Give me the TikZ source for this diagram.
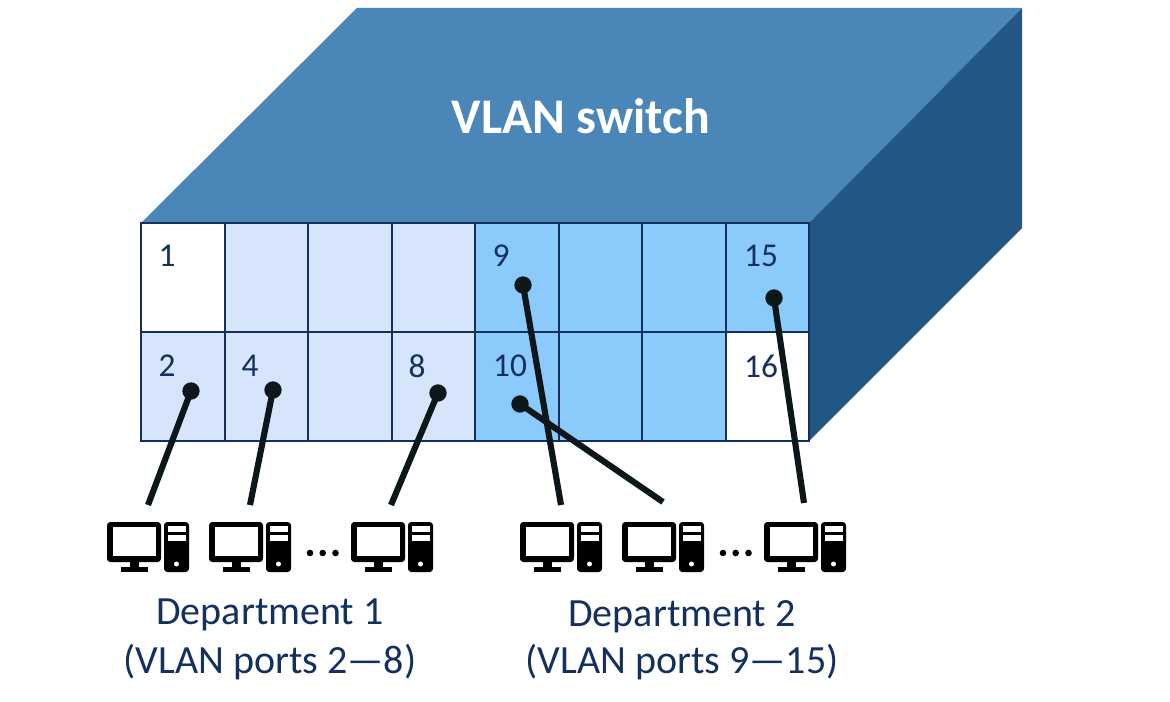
\documentclass[tikz,border=0pt]{standalone}
\usepackage{fontspec}
\setmainfont{Carlito}
\definecolor{navy}{HTML}{14305F}
\definecolor{lightport}{HTML}{D6E5FC}
\definecolor{midport}{HTML}{8BCBFB}
\definecolor{topface}{HTML}{4A86B8}
\definecolor{sideface}{HTML}{245785}
\definecolor{cablecol}{HTML}{0B1719}
\tikzset{
  x=0.75pt,y=-0.75pt,
  portcell/.style={draw=navy,line width=2.1pt},
  portnum/.style={text=navy,font=\fontsize{25}{29}\selectfont,inner sep=0pt,anchor=center},
  plug/.style={circle,fill=cablecol,draw=none,minimum size=13pt,inner sep=0pt},
  cable/.style={draw=cablecol,line width=4.6pt},
  deptlabel/.style={text=navy,font=\fontsize{30}{36}\selectfont,inner sep=0pt,anchor=center},
  pics/computer/.style={code={
    \fill[black,rounded corners=2.5pt] (0,0) rectangle (54,40);
    \fill[white] (5.5,5) rectangle (48.5,34);
    \fill[black] (23,40) rectangle (32,48);
    \fill[black] (14,45) rectangle (41,50);
    \fill[black,rounded corners=2.5pt] (57,0) rectangle (82,50);
    \fill[white] (61,4) rectangle (79,10);
    \fill[white] (61,13) rectangle (79,19);
    \fill[white] (69.5,42) circle[radius=2.5];
  }}
}
\begin{document}
\begin{tikzpicture}
\useasboundingbox (0,0) rectangle (1170,702);
% box faces
\fill[topface] (141,223) -- (357,8) -- (1022,8) -- (809,223) -- cycle;
\fill[sideface] (809,223) -- (1022,8) -- (1022,228) -- (809,441) -- cycle;
\node[text=white,font=\bfseries\fontsize{37.4}{44}\selectfont,inner sep=0pt] (title) at (581,116) {VLAN switch};
% ports
\foreach \xa/\xb/\col in {141/225/white,225/308/lightport,308/392/lightport,392/475/lightport,475/559/midport,559/642/midport,642/726/midport,726/809/midport}
  \filldraw[portcell,fill=\col] (\xa,223) rectangle (\xb,332);
\foreach \xa/\xb/\col in {141/225/lightport,225/308/lightport,308/392/lightport,392/475/lightport,475/559/midport,559/642/midport,642/726/midport,726/809/white}
  \filldraw[portcell,fill=\col] (\xa,332) rectangle (\xb,441);
\node[portnum] (n1) at (167,256) {1};
\node[portnum] (n2) at (167,366) {2};
\node[portnum] (n4) at (250,366) {4};
\node[portnum] (n8) at (417,366) {8};
\node[portnum] (n9) at (501,256) {9};
\node[portnum] (n10) at (510,366) {10};
\node[portnum] (n15) at (761,256) {15};
\node[portnum] (n16) at (761,366) {16};
% computers
\pic at (107,522) {computer};
\pic at (209,522) {computer};
\pic at (351,522) {computer};
\pic at (520,522) {computer};
\pic at (622,522) {computer};
\pic at (764,522) {computer};
\foreach \dx in {310,322.7,335.5,723,735.7,748.5}
  \fill[black] (\dx,553) circle[radius=3.3];
% plugs
\node[plug] (p2) at (191,391) {};
\node[plug] (p4) at (273,390) {};
\node[plug] (p8) at (438,393) {};
\node[plug] (p9) at (523,285) {};
\node[plug] (p10) at (520,404) {};
\node[plug] (p15) at (774,298) {};
\coordinate (c2) at (148,505);
\coordinate (c4) at (250,505);
\coordinate (c8) at (391,505);
\coordinate (c9) at (561,505);
\coordinate (c10) at (663,502);
\coordinate (c15) at (804,503);
\foreach \a/\b in {p2/c2,p4/c4,p8/c8,p9/c9,p10/c10,p15/c15}
  \draw[cable] (\a.center) -- (\b);
% labels
\node[deptlabel] (d1a) at (270,615) {Department 1};
\node[deptlabel] (d1b) at (270,662) {(VLAN ports 2—8)};
\node[deptlabel] (d2a) at (682,617) {Department 2};
\node[deptlabel] (d2b) at (682,662) {(VLAN ports 9—15)};
\end{tikzpicture}
\end{document}
